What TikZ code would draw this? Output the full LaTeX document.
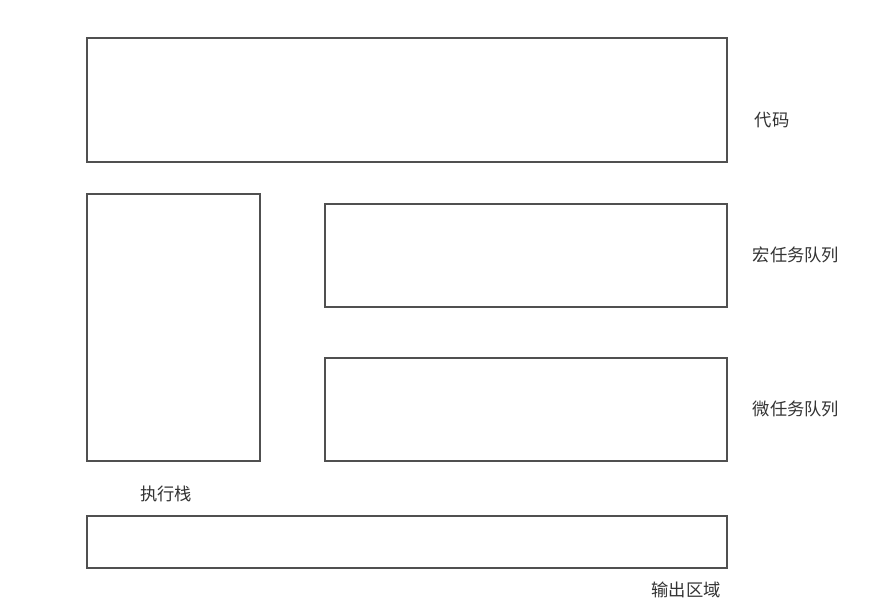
\documentclass[tikz,border=0pt]{standalone}
\usepackage{fontspec}
\newfontfamily\cjk{Noto Sans CJK SC}
\definecolor{boxline}{HTML}{505050}
\definecolor{txt}{HTML}{333333}
\begin{document}
\begin{tikzpicture}[x=1pt,y=-1pt,
  panel/.style={draw=boxline,line width=2pt},
  lbl/.style={text=txt,font=\cjk\fontsize{17.3}{19}\selectfont,inner sep=0pt}]
\useasboundingbox (0,0) rectangle (881,612);
\fill[white] (0,0) rectangle (881,612);
\node[panel,minimum width=640pt,minimum height=124pt,anchor=north west] (code) at (86,37) {};
\node[panel,minimum width=173pt,minimum height=267pt,anchor=north west] (stack) at (86,193) {};
\node[panel,minimum width=402pt,minimum height=103pt,anchor=north west] (macro) at (324,203) {};
\node[panel,minimum width=402pt,minimum height=103pt,anchor=north west] (micro) at (324,357) {};
\node[panel,minimum width=640pt,minimum height=52pt,anchor=north west] (out) at (86,515) {};
\node[lbl] (codel) at (772,120) {代码};
\node[lbl] (macrol) at (796,255) {宏任务队列};
\node[lbl] (microl) at (796,409) {微任务队列};
\node[lbl] (stackl) at (166,494) {执行栈};
\node[lbl] (outl) at (686,590) {输出区域};
\end{tikzpicture}
\end{document}
